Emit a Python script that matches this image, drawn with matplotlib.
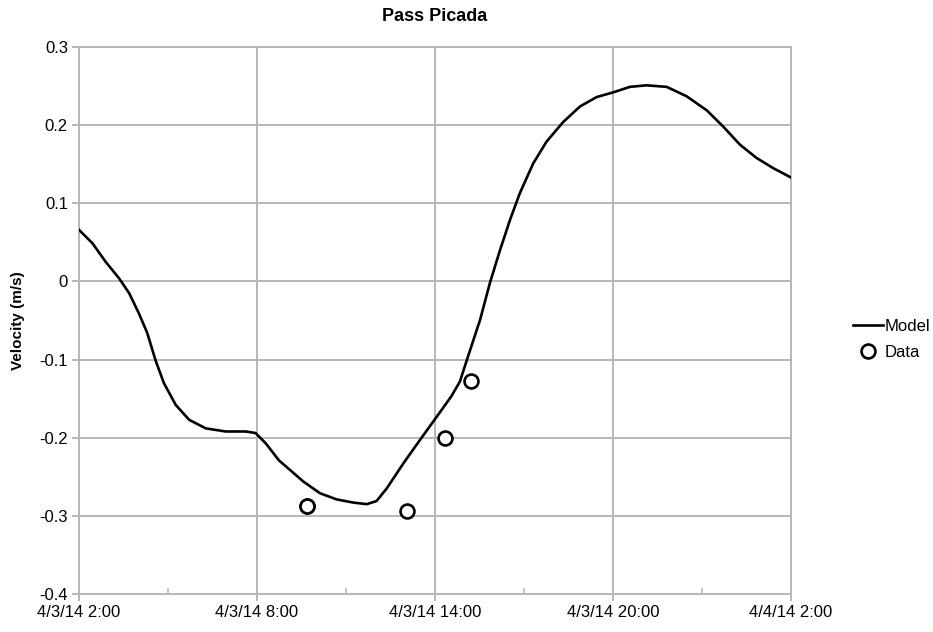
import matplotlib
matplotlib.use("Agg")
from matplotlib import pyplot as plt
from datetime import datetime, timedelta

plt.rcParams["font.family"] = ["Liberation Sans", "DejaVu Sans"]

start = datetime(2014, 4, 3, 2, 0)

# model curve, hours after 4/3/14 2:00 and velocity (m/s)
model_hours = [0.0, 0.45, 0.9, 1.35, 1.69, 2.02, 2.30, 2.58, 2.86, 3.26, 3.71,
               4.27, 4.94, 5.62, 5.95, 6.29, 6.74, 7.56, 8.12, 8.69, 9.25,
               9.70, 10.03, 10.37, 10.93, 11.49, 12.06, 12.55, 12.84, 13.07,
               13.52, 13.85, 14.19, 14.53, 14.86, 15.31, 15.76, 16.32, 16.89,
               17.45, 18.01, 18.57, 19.13, 19.81, 20.48, 21.16, 21.72, 22.28,
               22.84, 23.40, 24.0]
model_vel = [0.066, 0.049, 0.025, 0.004, -0.015, -0.041, -0.066, -0.101,
             -0.130, -0.158, -0.177, -0.188, -0.192, -0.192, -0.194, -0.207,
             -0.229, -0.256, -0.271, -0.279, -0.283, -0.285, -0.281,
             -0.265, -0.233, -0.203, -0.173, -0.147, -0.128, -0.101, -0.049,
             -0.002, 0.040, 0.079, 0.113, 0.151, 0.179, 0.204, 0.224, 0.236,
             0.242, 0.249, 0.251, 0.249, 0.237, 0.219, 0.198, 0.175, 0.158,
             0.145, 0.133]

# observed velocities
data_hours = [7.67, 7.69, 11.04, 12.34, 13.21]
data_vel = [-0.287, -0.288, -0.294, -0.2, -0.1275]

model_t = [start + timedelta(hours=h) for h in model_hours]
data_t = [start + timedelta(hours=h) for h in data_hours]

fig = plt.figure(figsize=(9.33, 6.32), dpi=100)
ax = fig.add_axes([0.0847, 0.0601, 0.7631, 0.8655])

ax.plot(model_t, model_vel, color="black", lw=1.9, label="Model", zorder=3,
        solid_joinstyle="round")
ax.plot(data_t, data_vel, "o", ms=10, mfc="white", mec="black", mew=1.9,
        label="Data", zorder=4)

ax.set_xlim(start, start + timedelta(hours=24))
ax.set_ylim(-0.4, 0.3)
ax.set_yticks([-0.4, -0.3, -0.2, -0.1, 0, 0.1, 0.2, 0.3])
ax.set_yticklabels(["-0.4", "-0.3", "-0.2", "-0.1", "0", "0.1", "0.2", "0.3"])

ticks = [start + timedelta(hours=6 * i) for i in range(5)]
ax.set_xticks(ticks)
ax.set_xticklabels(["4/3/14 2:00", "4/3/14 8:00", "4/3/14 14:00",
                    "4/3/14 20:00", "4/4/14 2:00"])
ax.set_xticks([start + timedelta(hours=3 + 6 * i) for i in range(4)], minor=True)

ax.grid(True, which="major", color="#b8b8b8", lw=1.4)
for s in ax.spines.values():
    s.set_color("#b8b8b8")
    s.set_linewidth(1.4)
ax.tick_params(axis="both", which="major", color="#b8b8b8", width=1.4,
               length=5, labelsize=12, pad=3)
ax.tick_params(axis="x", which="minor", direction="in", color="#b8b8b8",
               width=1.2, length=4)

ax.set_title("Pass Picada", fontsize=13, fontweight="bold", pad=19)
ax.set_ylabel("Velocity (m/s)", fontsize=11, fontweight="bold", labelpad=10)

ax.legend(loc="center left", bbox_to_anchor=(1.0, 0.466), frameon=False,
          fontsize=12, handlelength=1.8, handletextpad=0.1, labelspacing=0.65,
          borderaxespad=3.3)

fig.savefig("out.png", dpi=100)
